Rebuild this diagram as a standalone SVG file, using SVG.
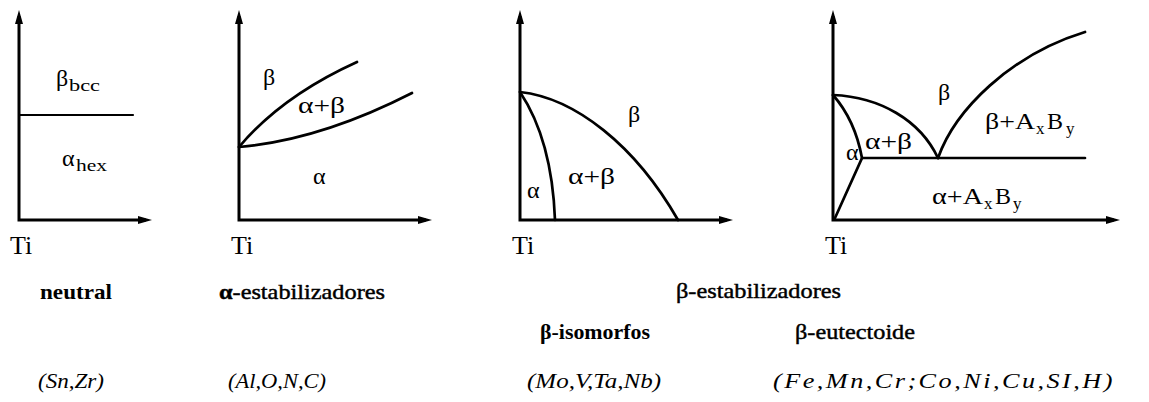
<svg xmlns="http://www.w3.org/2000/svg" width="1149" height="402" viewBox="0 0 1149 402">
<style>
.ax{fill:none;stroke:#000;stroke-width:3;marker-start:url(#ah);marker-end:url(#ah)}
.ln{fill:none;stroke:#000;stroke-width:2.7;stroke-linecap:round}
.thin{stroke-width:2.2}
.lb{font-family:'Liberation Serif',serif;font-size:24px;fill:#000}
.sb{font-family:'Liberation Serif',serif;font-size:17px;fill:#000}
.ti{font-family:'Liberation Serif',serif;font-size:26px;fill:#000}
.cap{font-family:'Liberation Serif',serif;font-size:22px;fill:#000}
.b{font-weight:bold}
.md{stroke:#000;stroke-width:0.45}
.it{font-family:'Liberation Serif',serif;font-style:italic;font-size:21px;fill:#000}
</style>
<defs>
<marker id="ah" viewBox="0 0 14 8" refX="8" refY="4" markerWidth="14" markerHeight="8" markerUnits="userSpaceOnUse" orient="auto-start-reverse"><path d="M0,0L14,4L0,8z"/></marker>
</defs>
<g id="panel-neutral" font-family="Liberation Serif, serif">
<path class="ax" d="M19,16V220H146"/>
<path class="ln thin" d="M19,115H133"/>
<text class="lb" x="56" y="86">β</text><text class="sb" x="69" y="91" textLength="31" lengthAdjust="spacingAndGlyphs">bcc</text>
<text class="lb" x="62" y="166">α</text><text class="sb" x="76" y="171" textLength="31" lengthAdjust="spacingAndGlyphs">hex</text>
<text class="ti" x="10" y="254">Ti</text>
</g>
<g id="panel-alpha" font-family="Liberation Serif, serif">
<path class="ax" d="M239,16V220H426"/>
<path class="ln" d="M239,147Q282,96 357,62"/>
<path class="ln" d="M239,147Q320,140 412,93"/>
<text class="lb" x="263" y="85">β</text>
<text class="lb" x="298" y="113" textLength="47" lengthAdjust="spacingAndGlyphs">α+β</text>
<text class="lb" x="313" y="184">α</text>
<text class="ti" x="231" y="254">Ti</text>
</g>
<g id="panel-isomorph" font-family="Liberation Serif, serif">
<path class="ax" d="M520,16V220H727"/>
<path class="ln" d="M520,92C575,98 635,145 678,220"/>
<path class="ln" d="M520,92Q552,140 555,220"/>
<text class="lb" x="628" y="122">β</text>
<text class="lb" x="568" y="184" textLength="47" lengthAdjust="spacingAndGlyphs">α+β</text>
<text class="lb" x="527" y="198">α</text>
<text class="ti" x="512" y="254">Ti</text>
</g>
<g id="panel-eutectoid" font-family="Liberation Serif, serif">
<path class="ax" d="M833,16V220H1114"/>
<path class="ln" d="M862,158H1085"/>
<path class="ln" d="M833,95Q855,120 862,158L835,218"/>
<path class="ln" d="M833,95C880,97 920,120 938,158"/>
<path class="ln" d="M938,158C955,110 1010,55 1085,32"/>
<text class="lb" x="938" y="100">β</text>
<text class="lb" x="985" y="129" textLength="50" lengthAdjust="spacingAndGlyphs">β+A</text><text class="sb" x="1036" y="134">x</text><text class="lb" x="1047" y="129">B</text><text class="sb" x="1066" y="134">y</text>
<text class="lb" x="865" y="149" textLength="47" lengthAdjust="spacingAndGlyphs">α+β</text>
<text class="lb" x="846" y="160">α</text>
<text class="lb" x="932" y="204" textLength="51" lengthAdjust="spacingAndGlyphs">α+A</text><text class="sb" x="984" y="209">x</text><text class="lb" x="995" y="204">B</text><text class="sb" x="1013" y="209">y</text>
<text class="ti" x="825" y="254">Ti</text>
</g>
<g id="captions" font-family="Liberation Serif, serif">
<text class="cap b" x="40" y="299" textLength="72" lengthAdjust="spacingAndGlyphs">neutral</text>
<text class="cap md" x="219" y="299" textLength="166" lengthAdjust="spacingAndGlyphs"><tspan class="b">α</tspan>-estabilizadores</text>
<text class="cap md" x="676" y="298" textLength="165" lengthAdjust="spacingAndGlyphs">β-estabilizadores</text>
<text class="cap b" x="540" y="339" textLength="110" lengthAdjust="spacingAndGlyphs">β-isomorfos</text>
<text class="cap md" x="795" y="339" textLength="120" lengthAdjust="spacingAndGlyphs">β-eutectoide</text>
<text class="it" x="38" y="388" textLength="66" lengthAdjust="spacingAndGlyphs">(Sn,Zr)</text>
<text class="it" x="228" y="388" textLength="98" lengthAdjust="spacingAndGlyphs">(Al,O,N,C)</text>
<text class="it" x="527" y="388" textLength="134" lengthAdjust="spacingAndGlyphs">(Mo,V,Ta,Nb)</text>
<text class="it" x="773" y="388" letter-spacing="2" textLength="342" lengthAdjust="spacingAndGlyphs">(Fe,Mn,Cr;Co,Ni,Cu,SI,H)</text>
</g>
</svg>
